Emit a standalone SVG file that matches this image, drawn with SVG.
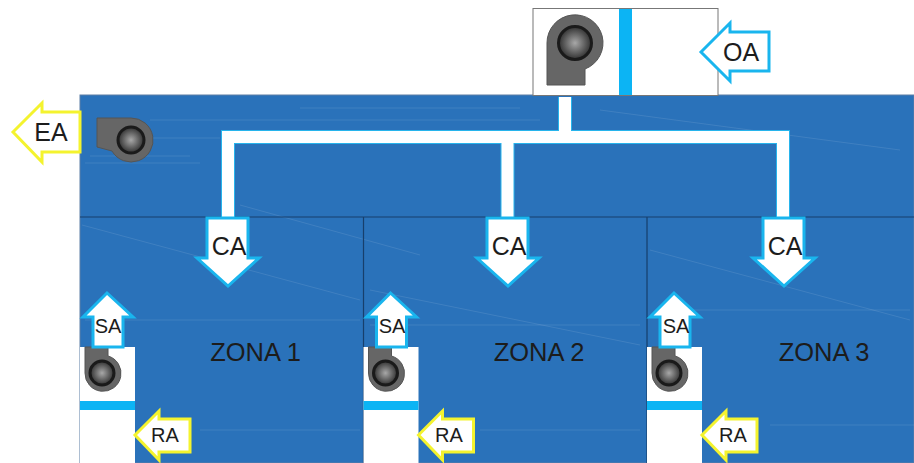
<svg xmlns="http://www.w3.org/2000/svg" width="914" height="463" viewBox="0 0 914 463">
<style>
text{font-family:"Liberation Sans",Arial,sans-serif;fill:#1c1c1c;text-anchor:middle}
.lab{font-size:25px}
.small{font-size:20px}
.zone{font-size:25.500px}
.ya{fill:#fff;stroke:#f4f32e;stroke-width:3}
.ca{fill:#fff;stroke:#19b5ee;stroke-width:3}
.box{fill:#fff;stroke:#777;stroke-width:1}
.bar{fill:#0cb4f4}
.fan{fill:#666;stroke:#555;stroke-width:1}
.hub{fill:url(#hub);stroke:#1a1a1a;stroke-width:3}
.div{stroke:#173f6c;stroke-width:1.2;fill:none}
.streak{stroke:#fff;stroke-opacity:.1;fill:none}
.duct{fill:none;stroke:#fff;stroke-width:12}
.ductedge{fill:none;stroke:#27b4ec;stroke-width:14}
</style>
<defs>
<radialGradient id="hub"><stop offset="0" stop-color="#a8a8a8"/><stop offset="1" stop-color="#303030"/></radialGradient>
<g id="ca-arrow"><path class="ca" d="M207 218H248V258H259L228 286L197 258H207Z"/></g>
<g id="sa-arrow"><path class="ca" d="M107 293L133 317H123V347H93V317H83Z"/></g>
<g id="ra-arrow"><path class="ya" d="M135 435L159 411V419H190V452H159V460Z"/></g>
<g id="zone-fan"><path class="fan" d="M85 347H108V356A18 18 0 1 1 85 373Z"/><circle class="hub" cx="102" cy="373" r="12"/></g>
</defs>
<rect x="0" y="0" width="914" height="463" fill="#fff"/>
<g id="building">
<rect x="80" y="95" width="834" height="368" fill="#2a72ba" stroke="#5d7fa6" stroke-width="1"/>
<path class="streak" d="M85 163H200M90 156H190M150 120H540M140 138H220M300 108H520M240 205L420 255M82 225L360 300M370 290L640 345M650 250L910 320M600 110L900 150M85 320H360M370 325H640M660 310H910M200 430H360M480 430H640M770 425H914"/>
<path class="div" d="M80 217H914M363.500 217V463M647 217V463"/>
</g>
<g id="outdoor-unit">
<rect class="box" x="533" y="8.500" width="185" height="87"/>
<rect class="bar" x="619" y="9" width="13" height="86"/>
<path class="fan" d="M547 85V43A28 28 0 1 1 585 69V85Z"/>
<circle class="hub" cx="575" cy="43" r="16.500"/>
</g>
<g id="connectors">
<path class="ductedge" d="M565 97V137M228 217V137H783V217M507.500 137V217"/>
<path class="duct" d="M565 97V137M228 217V137H783V217M507.500 137V217"/>
</g>
<g id="oa"><path class="ca" d="M701 52L730 23V32H769V71H730V81Z"/><text class="lab" x="741" y="61">OA</text></g>
<g id="ea"><path class="ya" d="M13 132L42 103V112H80V152H42V162Z"/><text class="lab" x="51" y="141">EA</text></g>
<g id="exhaust-fan"><path class="fan" d="M97 118H131A22 22 0 1 1 112 151L97 147Z"/><circle class="hub" cx="131" cy="140" r="13"/></g>
<g id="ca-1"><use href="#ca-arrow"/><text class="lab" x="229" y="255">CA</text></g>
<g id="ca-2"><use href="#ca-arrow" x="280"/><text class="lab" x="509" y="255">CA</text></g>
<g id="ca-3"><use href="#ca-arrow" x="556"/><text class="lab" x="785" y="255">CA</text></g>
<g id="zona-1">
<text class="zone" x="255.500" y="361">ZONA 1</text>
<rect x="80" y="347" width="55" height="116" fill="#fff"/>
<rect class="bar" x="80" y="401" width="55" height="9"/>
<use href="#zone-fan"/><use href="#sa-arrow"/><use href="#ra-arrow"/>
<text class="small" x="108" y="333">SA</text><text class="small" x="165" y="442">RA</text>
</g>
<g id="zona-2">
<text class="zone" x="539" y="361">ZONA 2</text>
<rect x="363.500" y="347" width="55" height="116" fill="#fff"/>
<rect class="bar" x="363.500" y="401" width="55" height="9"/>
<use href="#zone-fan" x="283.500"/><use href="#sa-arrow" x="283.500"/><use href="#ra-arrow" x="283.500"/>
<text class="small" x="392" y="333">SA</text><text class="small" x="449" y="442">RA</text>
</g>
<g id="zona-3">
<text class="zone" x="824" y="361">ZONA 3</text>
<rect x="647" y="347" width="55" height="116" fill="#fff"/>
<rect class="bar" x="647" y="401" width="55" height="9"/>
<use href="#zone-fan" x="567"/><use href="#sa-arrow" x="567"/><use href="#ra-arrow" x="567"/>
<text class="small" x="676" y="333">SA</text><text class="small" x="733" y="442">RA</text>
</g>
</svg>
